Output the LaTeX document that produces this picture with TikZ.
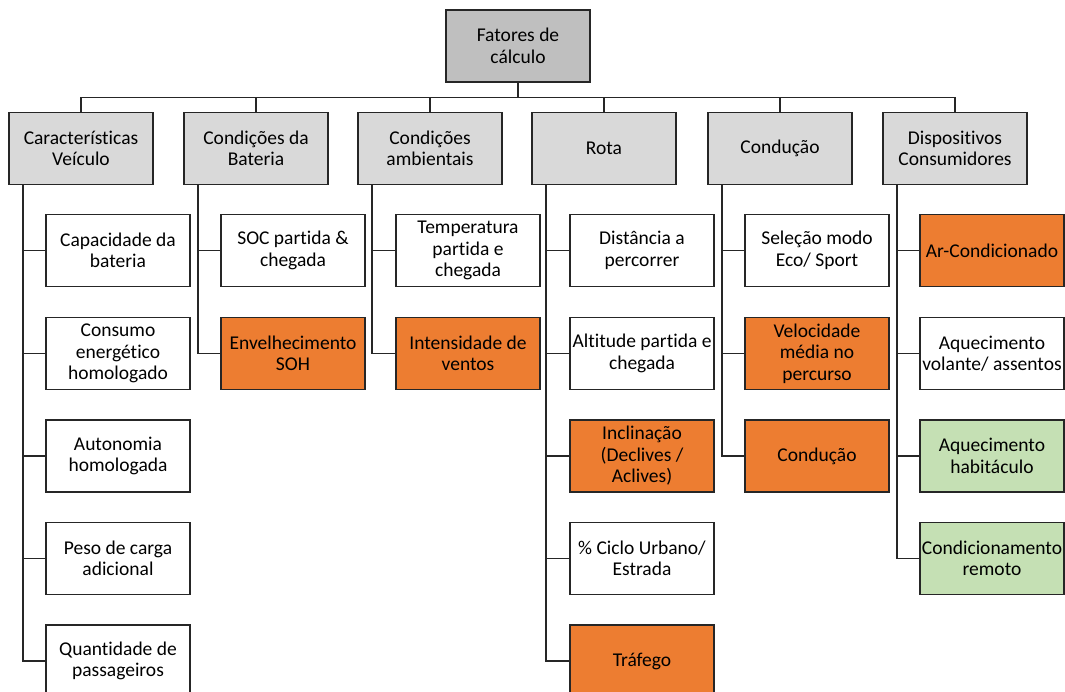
\documentclass[tikz,border=0pt]{standalone}
\usepackage{fontspec}
\setmainfont{Carlito}[Ligatures=NoCommon]
\usepackage{tikz}

\definecolor{topgray}{HTML}{BFBFBF}
\definecolor{catgray}{HTML}{D9D9D9}
\definecolor{hot}{HTML}{ED7D31}
\definecolor{mild}{HTML}{C5E0B4}

\tikzset{
  box/.style={draw=black!85, line width=1.4pt, minimum width=144, minimum height=72,
    inner sep=0pt, align=center, font=\fontsize{19.5}{21.5}\selectfont},
  root/.style={box, fill=topgray},
  cat/.style={box, fill=catgray},
  item/.style={box, fill=white},
  hotitem/.style={box, fill=hot},
  milditem/.style={box, fill=mild},
  wire/.style={draw=black!85, line width=1.4pt}
}

\begin{document}
\begin{tikzpicture}[x=1pt,y=-1pt]
      \useasboundingbox (0,0) rectangle (1065,692);

      \node[root] (fat) at (518,46) {Fatores de\\cálculo};

      \node[cat] (vei) at (81,148.5) {Características\\Veículo};
      \node[cat] (bat) at (256,148.5) {Condições da\\Bateria};
      \node[cat] (amb) at (430,148.5) {Condições\\ambientais};
      \node[cat] (rot) at (604,148.5) {Rota};
      \node[cat] (con) at (780,148.5) {Condução};
      \node[cat] (dis) at (955,148.5) {Dispositivos\\Consumidores};

      \draw[wire] (fat.south) -- ++(0,15) -| (vei.north);
      \draw[wire] (fat.south) -- ++(0,15) -| (bat.north);
      \draw[wire] (fat.south) -- ++(0,15) -| (amb.north);
      \draw[wire] (fat.south) -- ++(0,15) -| (rot.north);
      \draw[wire] (fat.south) -- ++(0,15) -| (con.north);
      \draw[wire] (fat.south) -- ++(0,15) -| (dis.north);

      % caracteristicas do veiculo
      \node[item] (vei1) at (118,250.5) {Capacidade da\\bateria};
      \node[item] (vei2) at (118,353.5) {Consumo\\energético\\homologado};
      \node[item] (vei3) at (118,456) {Autonomia\\homologada};
      \node[item] (vei4) at (118,558.5) {Peso de carga\\adicional};
      \node[item] (vei5) at (118,661) {Quantidade de\\passageiros};

      % bateria
      \node[item] (bat1) at (293,250.5) {SOC partida \&\\chegada};
      \node[hotitem] (bat2) at (293,353.5) {Envelhecimento\\SOH};

      % ambiente
      \node[item] (amb1) at (468,250.5) {Temperatura\\partida e\\chegada};
      \node[hotitem] (amb2) at (468,353.5) {Intensidade de\\ventos};

      % rota
      \node[item] (rot1) at (642,250.5) {Distância a\\percorrer};
      \node[item] (rot2) at (642,353.5) {Altitude partida e\\chegada};
      \node[hotitem] (rot3) at (642,456) {Inclinação\\(Declives /\\Aclives)};
      \node[item] (rot4) at (642,558.5) {\% Ciclo Urbano/\\Estrada};
      \node[hotitem] (rot5) at (642,661) {Tráfego};

      % conducao
      \node[item] (con1) at (817,250.5) {Seleção modo\\Eco/ Sport};
      \node[hotitem] (con2) at (817,353.5) {Velocidade\\média no\\percurso};
      \node[hotitem] (con3) at (817,456) {Condução};

      % consumidores
      \node[hotitem] (dis1) at (992,250.5) {Ar-Condicionado};
      \node[item] (dis2) at (992,353.5) {Aquecimento\\volante/ assentos};
      \node[milditem] (dis3) at (992,456) {Aquecimento\\habitáculo};
      \node[milditem] (dis4) at (992,558.5) {Condicionamento\\remoto};

      \draw[wire] ([xshift=-58]vei.south) |- (vei5.west);
      \draw[wire] ([xshift=-58]vei.south) |- (vei1.west);
      \draw[wire] ([xshift=-58]vei.south) |- (vei2.west);
      \draw[wire] ([xshift=-58]vei.south) |- (vei3.west);
      \draw[wire] ([xshift=-58]vei.south) |- (vei4.west);

      \draw[wire] ([xshift=-58]bat.south) |- (bat2.west);
      \draw[wire] ([xshift=-58]bat.south) |- (bat1.west);

      \draw[wire] ([xshift=-58]amb.south) |- (amb2.west);
      \draw[wire] ([xshift=-58]amb.south) |- (amb1.west);

      \draw[wire] ([xshift=-58]rot.south) |- (rot5.west);
      \draw[wire] ([xshift=-58]rot.south) |- (rot1.west);
      \draw[wire] ([xshift=-58]rot.south) |- (rot2.west);
      \draw[wire] ([xshift=-58]rot.south) |- (rot3.west);
      \draw[wire] ([xshift=-58]rot.south) |- (rot4.west);

      \draw[wire] ([xshift=-58]con.south) |- (con3.west);
      \draw[wire] ([xshift=-58]con.south) |- (con1.west);
      \draw[wire] ([xshift=-58]con.south) |- (con2.west);

      \draw[wire] ([xshift=-58]dis.south) |- (dis4.west);
      \draw[wire] ([xshift=-58]dis.south) |- (dis1.west);
      \draw[wire] ([xshift=-58]dis.south) |- (dis2.west);
      \draw[wire] ([xshift=-58]dis.south) |- (dis3.west);
\end{tikzpicture}
\end{document}
